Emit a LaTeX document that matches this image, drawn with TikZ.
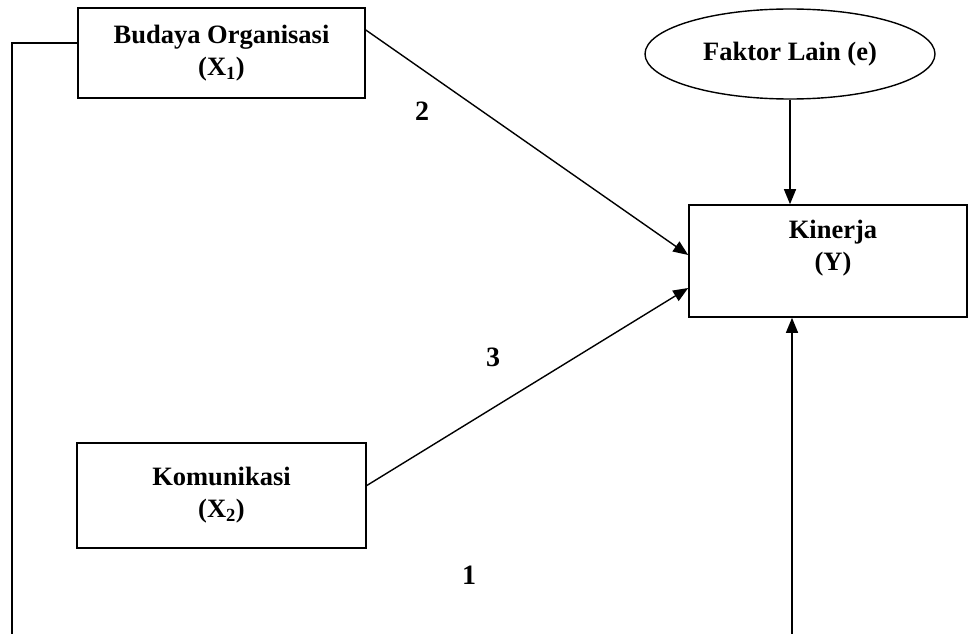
\documentclass[tikz,border=0pt]{standalone}
\usepackage{fontspec}
\setmainfont{Liberation Serif}
\usetikzlibrary{arrows.meta,shapes.geometric}
\begin{document}
\begin{tikzpicture}[x=1pt,y=-1pt,
  every node/.style={font=\fontsize{26.5}{32}\selectfont\bfseries},
  varbox/.style={draw,line width=1.6pt,rectangle,align=center,inner sep=0pt},
  conn/.style={line width=1.4pt},
  arr/.style={conn,-{Triangle[length=15pt,width=12pt]}},
  num/.style={font=\fontsize{28}{32}\selectfont\bfseries}]
\useasboundingbox (0,0) rectangle (969,634);
\node[varbox,minimum width=287pt,minimum height=90pt] (b) at (221.5,53) {Budaya Organisasi\\(X\textsubscript{1})};
\node[varbox,minimum width=289pt,minimum height=105pt] (m) at (221.5,495.5) {Komunikasi\\(X\textsubscript{2})};
\node[varbox,minimum width=278pt,minimum height=112pt] (k) at (828,261) {};
\node[align=center] (kt) at (833,248.5) {Kinerja\\(Y)};
\node[draw,ellipse,line width=1.4pt,minimum width=290pt,minimum height=90pt,inner sep=0pt] (e) at (790,54) {Faktor Lain (e)};
\node[num] (n2) at (422,111) {2};
\node[num] (n3) at (493,357) {3};
\node[num] (n1) at (469,575) {1};
\coordinate (lb) at (12,634);
\coordinate (rb) at (792,634);
\draw[arr] ([yshift=23pt]b.east) -- ([yshift=6pt]k.west);
\draw[arr] ([yshift=10pt]m.east) -- ([yshift=-27pt]k.west);
\draw[arr] (e.south) -- (e.south |- k.north);
\draw[arr] (rb) -- (rb |- k.south);
\draw[conn] ([yshift=10pt]b.west) -| (lb);
\end{tikzpicture}
\end{document}
